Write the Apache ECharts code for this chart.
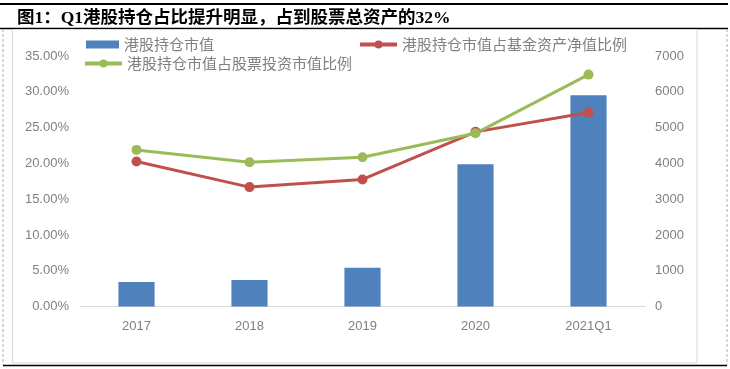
<!DOCTYPE html>
<html>
<head>
<meta charset="utf-8">
<script src="https://cdn.jsdelivr.net/npm/echarts@6/dist/echarts.min.js"></script>
<style>
html,body{margin:0;padding:0;background:#fff;}
#c{width:730px;height:369px;}
</style>
</head>
<body>
<div id="c"></div>
<script>
var categories = ['2017', '2018', '2019', '2020', '2021Q1'];
var holdingValue = [684, 740, 1083, 3977, 5903];
var ratioFundNAV = [0.2026, 0.1668, 0.1775, 0.2440, 0.2710];
var ratioStockInv = [0.2188, 0.2016, 0.2086, 0.2420, 0.3240];
var leftTicks = { min: 0, max: 0.35, interval: 0.05 };
var rightTicks = { min: 0, max: 7000, interval: 1000 };
var names = ['港股持仓市值', '港股持仓市值占基金资产净值比例', '港股持仓市值占股票投资市值比例'];
var titleText = '图1：Q1港股持仓占比提升明显，占到股票总资产的32%';

var chart = echarts.init(document.getElementById('c'), null, { renderer: 'canvas' });
var axisFont = { color: '#808080', fontSize: 13, fontFamily: 'Liberation Sans, Arial, sans-serif' };
var legendText = { color: '#808080', fontSize: 15, fontFamily: 'Noto Sans CJK SC, sans-serif' };

chart.setOption({
  animation: false,
  backgroundColor: '#fff',
  title: {
    text: titleText,
    left: 12, top: 5,
    textStyle: { fontSize: 17.5, fontWeight: 'bold', color: '#000', fontFamily: 'Liberation Serif, Noto Sans CJK SC, serif' }
  },
  graphic: [
    { type: 'line', shape: { x1: 0, y1: 4, x2: 728, y2: 4 }, style: { stroke: '#000', lineWidth: 2 } },
    { type: 'line', shape: { x1: 0, y1: 28.5, x2: 728, y2: 28.5 }, style: { stroke: '#000', lineWidth: 1.5 } },
    { type: 'line', shape: { x1: 3, y1: 29, x2: 3, y2: 365 }, style: { stroke: '#b0b0b0', lineWidth: 1, lineDash: [3, 2] } },
    { type: 'line', shape: { x1: 727, y1: 29, x2: 727, y2: 365 }, style: { stroke: '#b0b0b0', lineWidth: 1, lineDash: [3, 2] } },
    { type: 'rect', shape: { x: 12.5, y: 29.5, width: 684.5, height: 333.5 }, style: { fill: 'none', stroke: '#d9d9d9', lineWidth: 1 } },
    { type: 'line', shape: { x1: 3, y1: 365.5, x2: 727, y2: 365.5 }, style: { stroke: '#000', lineWidth: 1.5 } }
  ],
  legend: [
    { data: [names[0]], left: 86, top: 37, padding: 0, itemWidth: 33, itemHeight: 8, textStyle: legendText, icon: 'rect' },
    { data: [names[1]], left: 358, top: 37, padding: 0, itemWidth: 37, itemHeight: 10, textStyle: legendText, lineStyle: { width: 4 } },
    { data: [names[2]], left: 83, top: 56, padding: 0, itemWidth: 37, itemHeight: 10, textStyle: legendText, lineStyle: { width: 4 } }
  ],
  grid: { left: 80, right: 85, top: 56, bottom: 62.5 },
  xAxis: {
    type: 'category',
    data: categories,
    axisLine: { lineStyle: { color: '#d9d9d9', width: 1 } },
    axisTick: { show: false },
    axisLabel: Object.assign({ margin: 13 }, axisFont)
  },
  yAxis: [
    {
      type: 'value', min: leftTicks.min, max: leftTicks.max, interval: leftTicks.interval,
      axisLine: { show: false }, axisTick: { show: false }, splitLine: { show: false },
      axisLabel: Object.assign({ margin: 11, formatter: function (v) { return (v * 100).toFixed(2) + '%'; } }, axisFont)
    },
    {
      type: 'value', min: rightTicks.min, max: rightTicks.max, interval: rightTicks.interval,
      axisLine: { show: false }, axisTick: { show: false }, splitLine: { show: false },
      axisLabel: Object.assign({ margin: 10, formatter: function (v) { return String(v); } }, axisFont)
    }
  ],
  series: [
    {
      name: names[0], type: 'bar', yAxisIndex: 1, data: holdingValue,
      barWidth: '32%', itemStyle: { color: '#4F81BD' }
    },
    {
      name: names[1], type: 'line', yAxisIndex: 0, data: ratioFundNAV,
      symbol: 'circle', symbolSize: 10,
      lineStyle: { color: '#C0504D', width: 3 }, itemStyle: { color: '#C0504D' }
    },
    {
      name: names[2], type: 'line', yAxisIndex: 0, data: ratioStockInv,
      symbol: 'circle', symbolSize: 10,
      lineStyle: { color: '#9BBB59', width: 3 }, itemStyle: { color: '#9BBB59' }
    }
  ]
});
</script>
</body>
</html>
